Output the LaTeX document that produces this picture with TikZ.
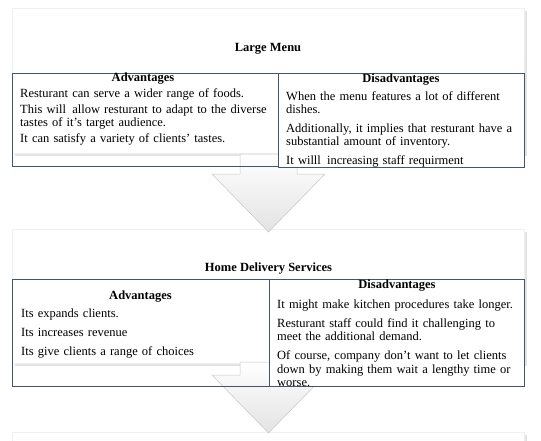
\documentclass[tikz,border=0pt]{standalone}
\usepackage{fontspec}
\setmainfont{Liberation Serif}
\usepackage{xcolor}
\definecolor{rule}{HTML}{44546A}

\begin{document}
\begin{tikzpicture}[x=1pt,y=-1pt,
    panel/.style={fill=white,draw=gray!12,line width=0.4pt},
    cell/.style={draw=rule,line width=0.8pt},
    cellhead/.style={font=\bfseries\fontsize{12.5}{13.5}\selectfont,inner sep=0pt,anchor=base},
    celltext/.style={font=\fontsize{12.5}{13.5}\selectfont,align=left,text width=250pt,inner sep=0pt,anchor=base west},
    blockarrow/.style={top color=white,bottom color=gray!22,draw=gray!45,line width=0.5pt}]
  % 1pt = 1px of the 541x440 page, y grows downwards.
  \clip (0,0) rectangle (541,440);
  % White panels with a soft shadow.
  \foreach \ya/\yb in {8/153, 229/363, 432/470} {
    \fill[gray!22] (14.5,\ya+2.5) rectangle (526.5,\yb+2.5);
    \fill[panel]   (12,\ya) rectangle (524,\yb);
  }
  % Down arrows between the panels (shaft top / neck / tip).
  \foreach \top/\neck/\tip in {154/174/232, 362/375/433}
    \draw[blockarrow] (240,\top) -- (297,\top) -- (297,\neck) -- (325,\neck)
      -- (268.5,\tip) -- (212,\neck) -- (240,\neck) -- cycle;

  % Panel 1: large menu.
  \node[cellhead] (title1) at (268,51) {Large Menu};
  \draw[cell] (12,73) rectangle (278,166);                 % advantages
  \filldraw[cell,fill=white] (278,73) rectangle (524,167); % disadvantages
  \node[cellhead] (adv1) at (143,81.5) {Advantages};
  \node[cellhead] (dis1) at (401,82.5) {Disadvantages};
  \node[celltext] (adv1text) at (20,97) {Resturant can serve a wider range of foods.\\[2.5pt]
    This will\, allow resturant to adapt to the diverse\\
    tastes of it's target audience.\\[2.5pt]
    It can satisfy a variety of clients' tastes.};
  \node[celltext] (dis1text) at (286,100) {When the menu features a lot of different\\
    dishes.\\[5pt]
    Additionally, it implies that resturant have a\\
    substantial amount of inventory.\\[5pt]
    It willl\, increasing staff requirment};

  % Panel 2: home delivery.
  \node[cellhead] (title2) at (268.5,271) {Home Delivery Services};
  \draw[cell] (12,279) rectangle (269,386);
  \filldraw[cell,fill=white] (269,279) rectangle (524,386);
  \node[cellhead] (adv2) at (140.5,299.5) {Advantages};
  \node[cellhead] (dis2) at (397,288.5) {Disadvantages};
  \node[celltext] (adv2text) at (21,317) {Its expands clients.\\[5.5pt]
    Its increases revenue\\[5.5pt]
    Its give clients a range of choices};
  \node[celltext] (dis2text) at (277,308) {It might make kitchen procedures take longer.\\[5.5pt]
    Resturant staff could find it challenging to\\
    meet the additional demand.\\[5.5pt]
    Of course, company don't want to let clients\\
    down by making them wait a lengthy time or\\
    worse.};
\end{tikzpicture}
\end{document}
